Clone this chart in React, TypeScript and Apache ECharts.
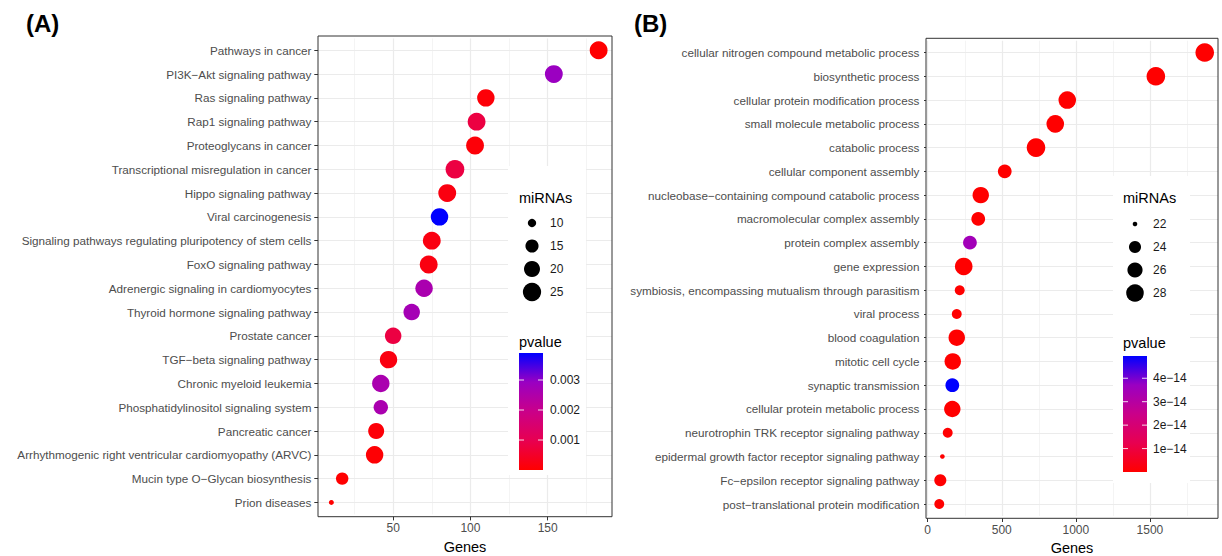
import React, { useEffect, useRef } from "react";
import * as echarts from "echarts";

// ---------------- Panel (A) data ----------------
const categoriesA = [
  "Pathways in cancer",
  "PI3K\u2212Akt signaling pathway",
  "Ras signaling pathway",
  "Rap1 signaling pathway",
  "Proteoglycans in cancer",
  "Transcriptional misregulation in cancer",
  "Hippo signaling pathway",
  "Viral carcinogenesis",
  "Signaling pathways regulating pluripotency of stem cells",
  "FoxO signaling pathway",
  "Adrenergic signaling in cardiomyocytes",
  "Thyroid hormone signaling pathway",
  "Prostate cancer",
  "TGF\u2212beta signaling pathway",
  "Chronic myeloid leukemia",
  "Phosphatidylinositol signaling system",
  "Pancreatic cancer",
  "Arrhythmogenic right ventricular cardiomyopathy (ARVC)",
  "Mucin type O\u2212Glycan biosynthesis",
  "Prion diseases",
];
const genesA = [183, 154, 110, 104, 103, 90, 85, 80, 75, 73, 70, 62, 50, 47, 42, 42, 39, 38, 17, 10];
const mirnasA = [24, 24, 23, 24, 24, 26, 24, 23, 24, 24, 23, 21, 21, 23, 23, 17, 20, 23, 14, 9];
const pvalueA = [
  0.00001, 0.0029, 0.0001, 0.0008, 0.0001, 0.0008, 0.0002, 0.0039, 0.0002, 0.0002,
  0.0026, 0.0027, 0.0008, 0.0002, 0.0026, 0.0026, 0.0001, 0.00005, 0.00001, 0.000001,
];
const sizeBreaksA = [10, 15, 20, 25];
const pBreaksA = [0.001, 0.002, 0.003];
const pLabelsA = ["0.001", "0.002", "0.003"];
const xTicksA = [50, 100, 150];

// ---------------- Panel (B) data ----------------
const categoriesB = [
  "cellular nitrogen compound metabolic process",
  "biosynthetic process",
  "cellular protein modification process",
  "small molecule metabolic process",
  "catabolic process",
  "cellular component assembly",
  "nucleobase\u2212containing compound catabolic process",
  "macromolecular complex assembly",
  "protein complex assembly",
  "gene expression",
  "symbiosis, encompassing mutualism through parasitism",
  "viral process",
  "blood coagulation",
  "mitotic cell cycle",
  "synaptic transmission",
  "cellular protein metabolic process",
  "neurotrophin TRK receptor signaling pathway",
  "epidermal growth factor receptor signaling pathway",
  "Fc\u2212epsilon receptor signaling pathway",
  "post\u2212translational protein modification",
];
const genesB = [1870, 1540, 942, 861, 731, 520, 358, 341, 285, 243, 216, 196, 196, 169, 166, 166, 135, 99, 85, 78];
const mirnasB = [29, 29, 28, 28, 29, 25, 27, 25, 25, 28, 23, 23, 27, 27, 25, 27, 23, 22, 24, 23];
const pvalueB = [
  1e-30, 1e-28, 1e-22, 1e-20, 1e-24, 1e-18, 1e-19, 1e-17, 3.5e-14, 1e-19,
  1e-17, 1e-16, 1e-18, 1e-17, 4.95e-14, 1e-18, 1e-16, 1e-16, 1e-16, 1e-17,
];
const sizeBreaksB = [22, 24, 26, 28];
const pBreaksB = [1e-14, 2e-14, 3e-14, 4e-14];
const pLabelsB = ["1e\u221214", "2e\u221214", "3e\u221214", "4e\u221214"];
const xTicksB = [0, 500, 1000, 1500];

// ---------------- style ----------------
const FONT = "'Liberation Sans', Arial, Helvetica, sans-serif";
const GRADIENT = ["#FF0000", "#E80050", "#CA0089", "#9A00C2", "#0000FF"];
const GRID_COLOR = "#EBEBEB";

type Layout = {
  left: number; top: number; right: number; bottom: number;
  tag: string; tagX: number;
  legLeft: number; legTop: number; legRight: number; legBottom: number;
  keyX: number; textX: number; titleX: number; sizeTitleY: number; keyRows: number[];
  pTitleY: number; barX: number; barW: number; barTop: number; barBottom: number;
  dMin: number; dMax: number;
};

const layoutA: Layout = {
  left: 318, top: 36, right: 612, bottom: 516.7, tag: "(A)", tagX: 26,
  legLeft: 508, legTop: 166, legRight: 586, legBottom: 475,
  keyX: 532, textX: 550, titleX: 519, sizeTitleY: 198, keyRows: [223, 246, 269, 292],
  pTitleY: 342, barX: 519, barW: 24, barTop: 353, barBottom: 470,
  dMin: 5, dMax: 18.7,
};
const layoutB: Layout = {
  left: 926, top: 38.3, right: 1218, bottom: 518.3, tag: "(B)", tagX: 634,
  legLeft: 1113, legTop: 176, legRight: 1190, legBottom: 483,
  keyX: 1135, textX: 1153, titleX: 1123, sizeTitleY: 198, keyRows: [224, 247, 270, 293],
  pTitleY: 343, barX: 1123, barW: 24, barTop: 356, barBottom: 472,
  dMin: 4.6, dMax: 18.6,
};

function buildPanel(
  idx: number,
  cats: string[], genes: number[], mirnas: number[], pvalue: number[],
  sizeBreaks: number[], pBreaks: number[], pLabels: string[], xTicks: number[],
  L: Layout
) {
  const H = L.bottom - L.top;
  const W = L.right - L.left;
  const n = cats.length;
  const e = (H * 0.1) / (n + 0.2);
  const gMin = Math.min(...genes), gMax = Math.max(...genes);
  const xMin = gMin - 0.05 * (gMax - gMin);
  const xMax = gMax + 0.05 * (gMax - gMin);
  const mMin = Math.min(...mirnas), mMax = Math.max(...mirnas);
  const size = (v: number) =>
    L.dMin + (L.dMax - L.dMin) * Math.sqrt(Math.max(0, (v - mMin) / (mMax - mMin)));
  const pMin = Math.min(...pvalue), pMax = Math.max(...pvalue);
  const step = xTicks[1] - xTicks[0];

  const grid = {
    left: L.left, top: L.top + e, width: W, height: H - 2 * e,
    containLabel: false, outerBoundsMode: "none",
  };
  const xAxis = {
    gridIndex: idx, type: "value", min: xMin, max: xMax,
    minInterval: step, maxInterval: step, splitNumber: 4, offset: e,
    axisLine: { show: false },
    axisTick: { show: true, customValues: xTicks, length: 3.7, lineStyle: { color: "#333", width: 1 } },
    axisLabel: { customValues: xTicks, formatter: (v: number) => String(v), color: "#4D4D4D", fontSize: 12, margin: 5.5, fontFamily: FONT },
    splitLine: { show: true, lineStyle: { color: GRID_COLOR, width: 1.2 } },
    minorTick: { show: false, splitNumber: 2 },
    minorSplitLine: { show: true, lineStyle: { color: "#F1F1F1", width: 0.8 } },
    name: "Genes", nameLocation: "middle", nameGap: 19,
    nameTextStyle: { color: "#000", fontSize: 14.5, fontFamily: FONT },
  };
  const yAxis = {
    gridIndex: idx, type: "category", data: cats, inverse: true,
    axisLine: { show: false },
    axisTick: { show: true, alignWithLabel: true, interval: 0, length: 3.7, lineStyle: { color: "#333", width: 1 } },
    axisLabel: { interval: 0, color: "#4D4D4D", fontSize: 11.7, margin: 6.6, fontFamily: FONT },
    splitLine: { show: false },
  };
  const series = [
    {
      type: "scatter", xAxisIndex: idx, yAxisIndex: idx, data: [], z: 1, silent: true,
      markLine: {
        z: 1, silent: true, symbol: ["none", "none"], label: { show: false }, animation: false,
        lineStyle: { color: GRID_COLOR, width: 1.2, type: "solid" },
        emphasis: { disabled: true },
        data: cats.map((_, i) => ({ yAxis: i })),
      },
    },
    {
      type: "scatter", xAxisIndex: idx, yAxisIndex: idx, z: 10,
      data: genes.map((g, i) => [g, cats[i], mirnas[i], pvalue[i]]),
      symbolSize: (v: any) => size(v[2]),
      itemStyle: { opacity: 1 },
    },
  ];
  const visualMap = {
    type: "continuous", show: false, seriesIndex: idx * 2 + 1, dimension: 3,
    min: pMin, max: pMax, inRange: { color: GRADIENT },
  };

  const g: any[] = [];
  g.push({
    type: "text", x: L.tagX, y: 23, z: 60,
    style: { text: L.tag, fill: "#000", fontSize: 24, fontWeight: "bold", fontFamily: FONT, textAlign: "left", textVerticalAlign: "middle" },
  });
  g.push({
    type: "rect", z: 50, shape: { x: L.legLeft, y: L.legTop, width: L.legRight - L.legLeft, height: L.legBottom - L.legTop },
    style: { fill: "#fff" },
  });
  g.push({
    type: "text", x: L.titleX, y: L.sizeTitleY, z: 55,
    style: { text: "miRNAs", fill: "#000", fontSize: 14.5, fontFamily: FONT, textAlign: "left", textVerticalAlign: "middle" },
  });
  sizeBreaks.forEach((b, k) => {
    g.push({ type: "circle", z: 55, shape: { cx: L.keyX, cy: L.keyRows[k], r: size(b) / 2 }, style: { fill: "#000" } });
    g.push({
      type: "text", x: L.textX, y: L.keyRows[k], z: 55,
      style: { text: String(b), fill: "#1A1A1A", fontSize: 12, fontFamily: FONT, textAlign: "left", textVerticalAlign: "middle" },
    });
  });
  g.push({
    type: "text", x: L.titleX, y: L.pTitleY, z: 55,
    style: { text: "pvalue", fill: "#000", fontSize: 14.5, fontFamily: FONT, textAlign: "left", textVerticalAlign: "middle" },
  });
  const bh = L.barBottom - L.barTop;
  g.push({
    type: "rect", z: 55, shape: { x: L.barX, y: L.barTop, width: L.barW, height: bh },
    style: {
      fill: {
        type: "linear", x: 0, y: 1, x2: 0, y2: 0,
        colorStops: GRADIENT.map((c, k) => ({ offset: k / (GRADIENT.length - 1), color: c })),
      },
    },
  });
  pBreaks.forEach((b, k) => {
    const y = L.barBottom - ((b - pMin) / (pMax - pMin)) * bh;
    g.push({ type: "line", z: 56, shape: { x1: L.barX, y1: y, x2: L.barX + 5, y2: y }, style: { stroke: "rgba(255,255,255,0.85)", lineWidth: 1 } });
    g.push({ type: "line", z: 56, shape: { x1: L.barX + L.barW - 5, y1: y, x2: L.barX + L.barW, y2: y }, style: { stroke: "rgba(255,255,255,0.85)", lineWidth: 1 } });
    g.push({
      type: "text", x: L.textX, y, z: 55,
      style: { text: pLabels[k], fill: "#1A1A1A", fontSize: 12, fontFamily: FONT, textAlign: "left", textVerticalAlign: "middle" },
    });
  });
  g.push({
    type: "rect", z: 70, silent: true, shape: { x: L.left, y: L.top, width: W, height: H },
    style: { fill: "none", stroke: "#333", lineWidth: 1 },
  });

  return { grid, xAxis, yAxis, series, visualMap, graphics: g };
}

export default function App() {
  const ref = useRef<HTMLDivElement>(null);
  useEffect(() => {
    if (!ref.current) return;
    const chart = echarts.init(ref.current, undefined, { renderer: "svg" });
    const a = buildPanel(0, categoriesA, genesA, mirnasA, pvalueA, sizeBreaksA, pBreaksA, pLabelsA, xTicksA, layoutA);
    const b = buildPanel(1, categoriesB, genesB, mirnasB, pvalueB, sizeBreaksB, pBreaksB, pLabelsB, xTicksB, layoutB);
    chart.setOption({
      animation: false,
      backgroundColor: "#fff",
      textStyle: { fontFamily: FONT },
      grid: [a.grid, b.grid],
      xAxis: [a.xAxis, b.xAxis],
      yAxis: [a.yAxis, b.yAxis],
      visualMap: [a.visualMap, b.visualMap],
      series: [...a.series, ...b.series],
      graphic: { elements: [...a.graphics, ...b.graphics] },
    } as any);
    return () => chart.dispose();
  }, []);
  return (
    <div
      ref={ref}
      style={{ position: "fixed", left: 0, top: 0, width: 1222, height: 556, background: "#fff" }}
    />
  );
}
